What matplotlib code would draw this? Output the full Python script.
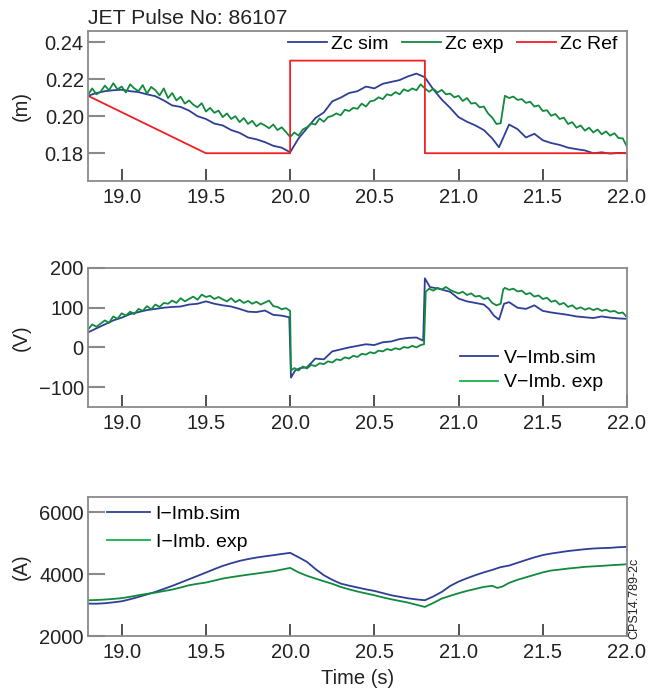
import matplotlib
matplotlib.use("Agg")
import matplotlib.pyplot as plt

plt.rcParams["font.family"] = ["Liberation Sans", "DejaVu Sans"]
plt.rcParams["axes.unicode_minus"] = True

# ---- panel 1: vertical position Zc (m) ----
zc_sim_t = [18.80, 18.85, 18.90, 18.95, 19.00, 19.05, 19.10, 19.15, 19.20, 19.25,
            19.30, 19.35, 19.40, 19.45, 19.50, 19.55, 19.60, 19.65, 19.70, 19.75,
            19.80, 19.85, 19.90, 19.95, 20.00, 20.05, 20.10, 20.15, 20.20, 20.25,
            20.30, 20.35, 20.40, 20.45, 20.50, 20.55, 20.60, 20.65, 20.70, 20.75,
            20.80, 20.85, 20.90, 20.95, 21.00, 21.05, 21.10, 21.15, 21.20, 21.24,
            21.30, 21.35, 21.40, 21.45, 21.50, 21.55, 21.60, 21.65, 21.70, 21.75,
            21.80, 21.85, 21.90, 21.95, 22.00]
zc_sim = [0.2110, 0.2125, 0.2135, 0.2140, 0.2143, 0.2135, 0.2130, 0.2118, 0.2108, 0.2085,
          0.2058, 0.2050, 0.2030, 0.2000, 0.1985, 0.1960, 0.1950, 0.1925, 0.1910, 0.1885,
          0.1875, 0.1860, 0.1840, 0.1830, 0.1805, 0.1880, 0.1935, 0.1990, 0.2020, 0.2080,
          0.2100, 0.2125, 0.2135, 0.2160, 0.2150, 0.2175, 0.2185, 0.2195, 0.2215, 0.2230,
          0.2210, 0.2145, 0.2090, 0.2045, 0.1995, 0.1970, 0.1950, 0.1925, 0.1880, 0.1832,
          0.1955, 0.1930, 0.1885, 0.1905, 0.1870, 0.1855, 0.1845, 0.1830, 0.1822, 0.1815,
          0.1800, 0.1805, 0.1798, 0.1802, 0.1800]

zc_exp_t = [round(18.8 + 0.025 * i, 3) for i in range(129)]
zc_exp = [0.2115, 0.2150, 0.2118, 0.2132, 0.2165, 0.2140, 0.2178, 0.2145, 0.2160, 0.2128,
          0.2172, 0.2150, 0.2135, 0.2168, 0.2122, 0.2158, 0.2140, 0.2112, 0.2150, 0.2098,
          0.2125, 0.2085, 0.2105, 0.2068, 0.2085, 0.2062, 0.2048, 0.2070, 0.2025, 0.2045,
          0.2018, 0.2030, 0.1995, 0.2015, 0.1985, 0.2000, 0.1968, 0.1990, 0.1958, 0.1975,
          0.1945, 0.1962, 0.1950, 0.1935, 0.1955, 0.1925, 0.1940, 0.1915, 0.1888, 0.1912,
          0.1895, 0.1928, 0.1940, 0.1960, 0.1955, 0.1988, 0.1970, 0.1995, 0.2002, 0.2015,
          0.2005, 0.2035, 0.2028, 0.2045, 0.2040, 0.2068, 0.2052, 0.2080, 0.2085, 0.2102,
          0.2092, 0.2118, 0.2112, 0.2130, 0.2118, 0.2145, 0.2135, 0.2150, 0.2140, 0.2172,
          0.2150, 0.2132, 0.2148, 0.2128, 0.2142, 0.2118, 0.2122, 0.2102, 0.2110, 0.2082,
          0.2098, 0.2068, 0.2072, 0.2048, 0.2052, 0.2015, 0.1992, 0.1958, 0.1962, 0.2110,
          0.2098, 0.2106, 0.2088, 0.2092, 0.2072, 0.2078, 0.2052, 0.2058, 0.2028, 0.2032,
          0.2002, 0.2012, 0.1985, 0.1992, 0.1958, 0.1968, 0.1938, 0.1950, 0.1922, 0.1938,
          0.1912, 0.1928, 0.1902, 0.1918, 0.1895, 0.1908, 0.1882, 0.1880, 0.1835]

zc_ref_t = [18.8, 19.5, 20.0, 20.0, 20.8, 20.8, 22.0]
zc_ref = [0.211, 0.180, 0.180, 0.230, 0.230, 0.180, 0.180]

# ---- panel 2: V-Imb (V) ----
v_sim_t = [18.80, 18.85, 18.90, 18.95, 19.00, 19.05, 19.10, 19.15, 19.20, 19.25,
           19.30, 19.35, 19.40, 19.45, 19.50, 19.55, 19.60, 19.65, 19.70, 19.75,
           19.80, 19.85, 19.90, 19.95, 19.995, 20.005, 20.03, 20.06, 20.10, 20.15,
           20.20, 20.25, 20.30, 20.35, 20.40, 20.45, 20.50, 20.55, 20.60, 20.65,
           20.70, 20.75, 20.79, 20.80, 20.83, 20.88, 20.95, 21.00, 21.05, 21.10,
           21.15, 21.18, 21.21, 21.24, 21.27, 21.30, 21.35, 21.40, 21.45, 21.50,
           21.55, 21.60, 21.65, 21.70, 21.75, 21.80, 21.85, 21.90, 21.95, 22.00]
v_sim = [38, 48, 58, 68, 75, 84, 89, 94, 97, 100,
         102, 103, 108, 110, 116, 110, 106, 103, 97, 90,
         89, 93, 82, 80, 76, -76, -58, -52, -50, -28,
         -30, -10, -5, 0, 4, 8, 6, 13, 15, 21,
         24, 25, 17, 174, 152, 148, 140, 123, 116, 112,
         108, 97, 80, 70, 110, 114, 100, 97, 106, 92,
         88, 85, 82, 78, 76, 74, 78, 75, 73, 72]

v_exp_t = ([round(18.8 + 0.025 * i, 3) for i in range(49)] + [20.005]
           + [round(20.025 + 0.025 * i, 3) for i in range(31)] + [20.795, 20.805]
           + [round(20.825 + 0.025 * i, 3) for i in range(18)] + [21.265]
           + [round(21.275 + 0.025 * i, 3) for i in range(30)])
v_exp = [45, 58, 52, 60, 68, 62, 78, 72, 86, 80,
         90, 84, 97, 92, 104, 96, 108, 102, 112, 110,
         118, 112, 124, 116, 122, 128, 120, 133, 127, 130,
         122, 127, 121, 116, 124, 114, 120, 112, 117, 110,
         115, 108, 113, 118, 104, 102, 96, 99, 92,
         -58,
         -52, -58, -48, -53, -44, -47, -40, -42, -35, -38,
         -30, -32, -25, -28, -21, -24, -16, -18, -12, -15,
         -8, -10, -4, -7, -2, -5, 1, -1, 4, 0, 6,
         8, 140,
         148, 143, 150, 146, 152, 145, 140, 136, 140, 132,
         136, 128, 130, 122, 125, 112, 106, 110,
         146,
         150, 145, 148, 141, 143, 134, 137, 128, 131, 122,
         125, 115, 118, 108, 112, 102, 106, 97, 101, 95,
         99, 94, 98, 92, 95, 90, 92, 86, 88, 76]

# ---- panel 3: I-Imb (A) ----
i_sim_t = [round(18.8 + 0.05 * i, 2) for i in range(65)]
i_sim = [3049, 3045, 3060, 3090, 3124, 3190, 3265, 3345, 3427, 3525,
         3622, 3730, 3838, 3945, 4054, 4165, 4270, 4355, 4432, 4490,
         4540, 4580, 4616, 4655, 4692, 4550, 4400, 4170, 3968, 3820,
         3697, 3630, 3570, 3510, 3460, 3390, 3320, 3270, 3220, 3185,
         3157, 3280, 3427, 3620, 3760, 3870, 3970, 4060, 4140, 4230,
         4280, 4370, 4460, 4545, 4620, 4670, 4710, 4750, 4780, 4810,
         4832, 4845, 4854, 4875, 4886]

i_exp_t = [18.80, 18.85, 18.90, 18.95, 19.00, 19.05, 19.10, 19.15, 19.20, 19.25,
           19.30, 19.35, 19.40, 19.45, 19.50, 19.55, 19.60, 19.65, 19.70, 19.75,
           19.80, 19.85, 19.90, 19.95, 20.00, 20.05, 20.10, 20.15, 20.20, 20.25,
           20.30, 20.35, 20.40, 20.45, 20.50, 20.55, 20.60, 20.65, 20.70, 20.75,
           20.80, 20.85, 20.90, 20.95, 21.00, 21.05, 21.10, 21.15, 21.20, 21.23,
           21.26, 21.30, 21.35, 21.40, 21.45, 21.50, 21.55, 21.60, 21.65, 21.70,
           21.75, 21.80, 21.85, 21.90, 21.95, 22.00]
i_exp = [3157, 3165, 3180, 3200, 3225, 3270, 3320, 3365, 3405, 3455,
         3503, 3570, 3643, 3690, 3730, 3795, 3859, 3905, 3946, 3985,
         4022, 4060, 4097, 4150, 4205, 4060, 3950, 3860, 3773, 3690,
         3589, 3510, 3440, 3380, 3319, 3250, 3189, 3135, 3081, 3010,
         2941, 3070, 3211, 3300, 3385, 3460, 3525, 3590, 3625, 3557,
         3600, 3720, 3820, 3900, 3980, 4060, 4120, 4150, 4184, 4210,
         4238, 4255, 4270, 4290, 4305, 4324]

x_ticks = [19.0, 19.5, 20.0, 20.5, 21.0, 21.5, 22.0]

BLUE = "#2e3f95"
GREEN = "#118a3e"
LEG_GREEN = "#17b04a"
RED = "#ee2024"
SPINE = "#8a8a8a"
TXT = "#222222"
FS = 14.5
LFS = 14

fig = plt.figure(figsize=(6.49, 6.91), dpi=100)
left, width = 88 / 649, 539 / 649
ax1 = fig.add_axes([left, 1 - 181 / 691, width, 150 / 691])
ax2 = fig.add_axes([left, 1 - 407 / 691, width, 139 / 691])
ax3 = fig.add_axes([left, 1 - 636 / 691, width, 139 / 691])


def style(ax, ylab):
    ax.set_xlim(18.8, 22.0)
    ax.set_xticks(x_ticks)
    ax.set_xticklabels(["%.1f" % t for t in x_ticks])
    for s in ax.spines.values():
        s.set_color(SPINE)
        s.set_linewidth(1.3)
    ax.tick_params(axis="x", direction="in", length=9, width=1.2, color="#333333",
                   labelsize=FS, labelcolor=TXT, pad=5)
    ax.tick_params(axis="y", direction="in", length=12, width=1.5, color=SPINE,
                   labelsize=FS, labelcolor=TXT, pad=3)
    ax.set_ylabel(ylab, fontsize=FS, color=TXT)
    ax.yaxis.set_label_coords(-57 / 539, 0.5)


lw = 1.3
ax1.plot(zc_sim_t, zc_sim, color=BLUE, lw=lw, label="Zc sim")
ax1.plot(zc_exp_t, zc_exp, color=GREEN, lw=lw, label="Zc exp")
ax1.plot(zc_ref_t, zc_ref, color=RED, lw=lw, label="Zc Ref")
style(ax1, "(m)")
ax1.set_ylim(0.165, 0.246)
ax1.set_yticks([0.18, 0.20, 0.22, 0.24])
ax1.set_yticklabels(["0.18", "0.20", "0.22", "0.24"])
ax1.legend(loc="upper right", ncol=3, frameon=False, fontsize=LFS, handlelength=2.0,
           handletextpad=0.2, columnspacing=0.7, borderaxespad=0.1,
           bbox_to_anchor=(1.0, 1.035))
fig.text(88 / 649, 1 - 19 / 691, "JET Pulse No: 86107", fontsize=15.2, color=TXT,
         ha="left", va="center")

ax2.plot(v_sim_t, v_sim, color=BLUE, lw=lw, label="V\u2212Imb.sim")
ax2.plot(v_exp_t, v_exp, color=GREEN, lw=lw, label="V\u2212Imb. exp")
style(ax2, "(V)")
ax2.set_ylim(-150, 200)
ax2.set_yticks([-100, 0, 100, 200])
leg2 = ax2.legend(loc="lower right", frameon=False, fontsize=LFS, handlelength=2.0,
                  handletextpad=0.3, borderaxespad=0.4, labelspacing=0.35,
                  bbox_to_anchor=(0.985, 0.0))
leg2.legend_handles[1].set_color(LEG_GREEN)

ax3.plot(i_sim_t, i_sim, color=BLUE, lw=lw, label="I\u2212Imb.sim")
ax3.plot(i_exp_t, i_exp, color=GREEN, lw=lw, label="I\u2212Imb. exp")
style(ax3, "(A)")
ax3.set_ylim(2000, 6500)
ax3.set_yticks([2000, 4000, 6000])
leg3 = ax3.legend(loc="upper left", frameon=False, fontsize=LFS, handlelength=2.2,
                  handletextpad=0.3, borderaxespad=0.3, labelspacing=0.55,
                  bbox_to_anchor=(0.01, 1.04))
leg3.legend_handles[1].set_color(LEG_GREEN)
ax3.set_xlabel("Time (s)", fontsize=FS, color=TXT, labelpad=5)
fig.text(634 / 649, 1 - 598 / 691, "CPS14.789-2c", fontsize=9, color=TXT,
         rotation=90, ha="center", va="center")

fig.savefig("out.png", dpi=100)
